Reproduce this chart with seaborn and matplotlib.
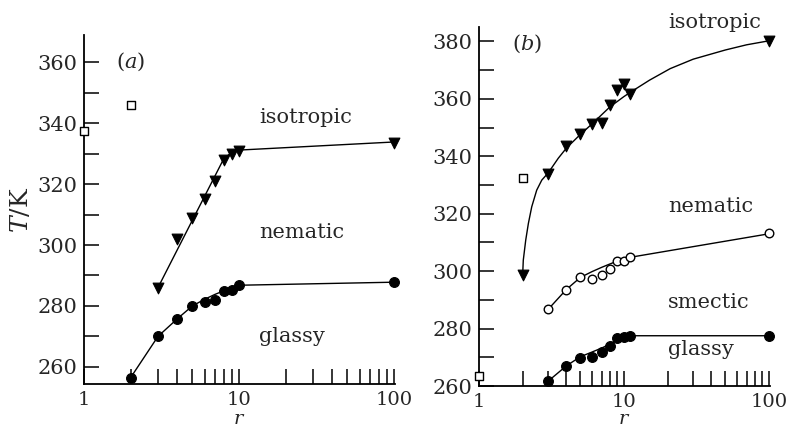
import numpy as np
import pandas as pd
import matplotlib
matplotlib.use("Agg")
import matplotlib.pyplot as plt
import seaborn as sns
from matplotlib.ticker import MultipleLocator, LogLocator, FixedLocator, NullFormatter, FixedFormatter

# ---------------- data ----------------
# panel (a)
a_iso_r = [3, 4, 5, 6, 7, 8, 9, 10, 100]
a_iso_T = [286, 302, 309, 315, 321, 328, 330, 331, 333.5]
a_gla_r = [2, 3, 4, 5, 6, 7, 8, 9, 10, 100]
a_gla_T = [256.5, 270, 275.8, 280, 281.2, 282, 285, 285.2, 286.8, 288]
a_sq_r = [1, 2]
a_sq_T = [337.5, 345.8]
# fitted curves (a)
a_iso_line_r = [3, 7.9, 8.7, 9.5, 10.5, 100]
a_iso_line_T = [286, 327.9, 329.9, 330.8, 331.2, 333.8]
a_gla_line_r = [2, 3, 4, 5, 6, 7, 8, 9, 10, 100]
a_gla_line_T = [256.5, 270, 275.8, 280, 282.2, 283.8, 285, 286, 286.8, 287.8]

# panel (b)
b_iso_r = [2, 3, 4, 5, 6, 7, 8, 9, 10, 11, 100]
b_iso_T = [298.6, 333.8, 343.5, 347.6, 351.1, 351.6, 357.7, 363.2, 365.2, 361.6, 380.2]
b_nem_r = [3, 4, 5, 6, 7, 8, 9, 10, 11, 100]
b_nem_T = [286.7, 293.6, 297.8, 297.1, 298.6, 300.6, 303.5, 303.6, 304.8, 313.3]
b_gla_r = [3, 4, 5, 6, 7, 8, 9, 10, 11, 100]
b_gla_T = [261.7, 267, 269.9, 270.2, 271.9, 274, 276.8, 276.9, 277.5, 277.3]
b_sq_r = [1, 2]
b_sq_T = [263.6, 332.5]
# fitted curves (b)
b_iso_line_r = [2, 2.02, 2.1, 2.19, 2.31, 2.5, 2.71, 3, 3.52, 4, 5, 6, 8, 10, 11, 15, 20.8, 30, 50,
                70, 100]
b_iso_line_T = [298.6, 303.8, 310.8, 316.6, 322.4, 328.2, 331.7, 334.2, 339.3, 342.8, 347.6, 351.2,
                357.2, 360.8, 362.2, 366.5, 370.5, 373.8, 377, 378.8, 380.2]
b_nem_line_r = [3, 4, 5, 6, 7, 8, 9, 10, 11, 100]
b_nem_line_T = [286.7, 293.6, 297.8, 299.8, 301.3, 302.5, 303.5, 304.1, 304.8, 313]
b_gla_line_r = [3, 4, 5, 6, 7, 8, 9, 10, 11, 100]
b_gla_line_T = [261.7, 267, 270.2, 271.8, 273.2, 274.6, 276.2, 277, 277.5, 277.5]

a_labels = [("isotropic", 13.5, 340.1), ("nematic", 13.5, 302.2), ("glassy", 13.5, 268.3)]
b_labels = [("isotropic", 20.1, 384.6), ("nematic", 20.1, 320.6), ("smectic", 20.1, 287.0),
            ("glassy", 20.1, 270.8)]
x_ticks = [1, 10, 100]
x_tick_labels = ["1", "10", "100"]

# ---------------- style ----------------
sns.set_theme(style="ticks")
plt.rcParams["font.family"] = ["DejaVu Serif"]
plt.rcParams["mathtext.fontset"] = "dejavuserif"

FS = 15
fig = plt.figure(figsize=(7.87, 4.29), dpi=100)
fig.patch.set_facecolor("white")

W, H = 787, 429
ax_a = fig.add_axes([84 / W, 1 - 384 / H, 311 / W, 349 / H])
ax_b = fig.add_axes([479 / W, 1 - 386 / H, 291 / W, 359 / H])


def line(ax, r, T):
    df = pd.DataFrame({"r": r, "T": T})
    sns.lineplot(data=df, x="r", y="T", ax=ax, color="black", lw=1.0,
                 sort=False, estimator=None)


def pts(ax, r, T, marker, s, face, lw=0.8):
    df = pd.DataFrame({"r": r, "T": T})
    sns.scatterplot(data=df, x="r", y="T", ax=ax, marker=marker, s=s, color=face,
                    edgecolor="black", linewidth=lw, clip_on=False, zorder=5)


# panel (a)
line(ax_a, a_iso_line_r, a_iso_line_T)
line(ax_a, a_gla_line_r, a_gla_line_T)
pts(ax_a, a_iso_r, a_iso_T, "v", 60, "black")
pts(ax_a, a_gla_r, a_gla_T, "o", 50, "black")
pts(ax_a, a_sq_r, a_sq_T, "s", 26, "white", 1.0)

# panel (b)
line(ax_b, b_iso_line_r, b_iso_line_T)
line(ax_b, b_nem_line_r, b_nem_line_T)
line(ax_b, b_gla_line_r, b_gla_line_T)
pts(ax_b, b_iso_r, b_iso_T, "v", 60, "black")
pts(ax_b, b_nem_r, b_nem_T, "o", 38, "white", 1.0)
pts(ax_b, b_gla_r, b_gla_T, "o", 50, "black")
pts(ax_b, b_sq_r, b_sq_T, "s", 26, "white", 1.0)

for ax, ylim, ymaj in [(ax_a, (254.4, 368.9), np.arange(260, 361, 20)),
                       (ax_b, (260, 385), np.arange(260, 381, 20))]:
    ax.set_xscale("log")
    ax.set_xlim(1, 101.5)
    ax.set_ylim(*ylim)
    ax.set_facecolor("white")
    for sp in ["top", "right"]:
        ax.spines[sp].set_visible(False)
    for sp in ["left", "bottom"]:
        ax.spines[sp].set_linewidth(1.3)
        ax.spines[sp].set_color("black")
    ax.xaxis.set_major_locator(FixedLocator(x_ticks))
    ax.xaxis.set_major_formatter(FixedFormatter(x_tick_labels))
    ax.xaxis.set_minor_locator(LogLocator(base=10, subs=np.arange(2, 10), numticks=20))
    ax.xaxis.set_minor_formatter(NullFormatter())
    ax.yaxis.set_major_locator(FixedLocator(ymaj))
    ax.yaxis.set_minor_locator(MultipleLocator(10))
    ax.tick_params(which="both", direction="in", length=11, width=1.1, color="black")
    ax.tick_params(axis="x", which="major", pad=5, labelsize=14)
    ax.tick_params(axis="y", which="major", pad=4.5, labelsize=FS)
    ax.set_xlabel("$r$", fontsize=14)
    ax.set_ylabel("")
    ax.grid(False)

ax_a.set_ylabel("$T$/K", fontsize=18)
ax_a.yaxis.set_label_coords(-0.165, 0.5)
ax_a.xaxis.set_label_coords(0.5, -0.0745)
ax_b.xaxis.set_label_coords(0.5, -0.0669)

for txt, x, y in a_labels:
    ax_a.text(x, y, txt, fontsize=FS, ha="left", va="baseline")
for txt, x, y in b_labels:
    ax_b.text(x, y, txt, fontsize=FS, ha="left", va="baseline", clip_on=False)

ax_a.text(2.0, 360, "($a$)", fontsize=FS, ha="center", va="center")
ax_b.text(2.14, 379, "($b$)", fontsize=FS, ha="center", va="center")

fig.savefig("out.png", dpi=100, facecolor="white")
